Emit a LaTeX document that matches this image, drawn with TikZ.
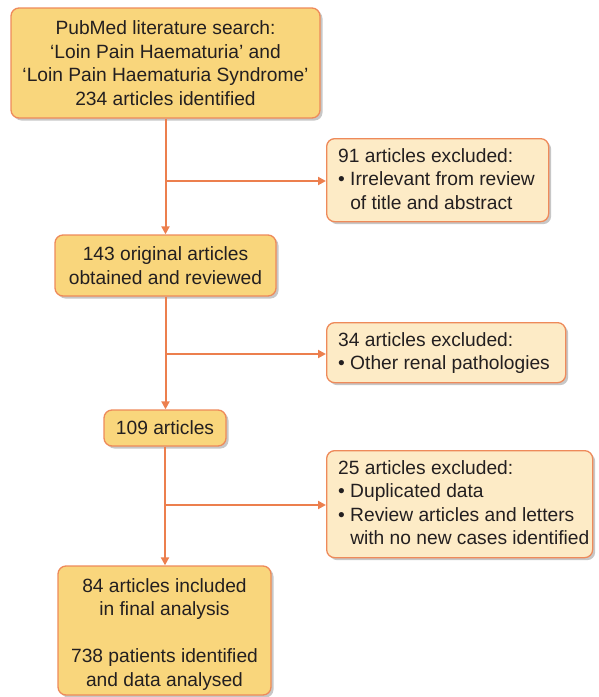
\documentclass[tikz,border=0pt]{standalone}
\usepackage{fontspec}
\setmainfont{Liberation Sans}
\usetikzlibrary{shadows,arrows.meta}
\definecolor{darkfill}{HTML}{F9D67C}
\definecolor{lightfill}{HTML}{FDEBC6}
\definecolor{edgeorange}{HTML}{EE8A5A}
\definecolor{lineorange}{HTML}{EC7F4E}
\definecolor{txt}{HTML}{231F20}
\tikzset{
  boxfont/.style={text=txt, font=\fontsize{19.2}{23.5}\selectfont},
  basebox/.style={draw=edgeorange, line width=1.3pt, rounded corners=8pt,
    boxfont, inner sep=0pt,
    drop shadow={shadow xshift=2.5pt, shadow yshift=-2.5pt, fill=black, opacity=0.22}},
  mainbox/.style={basebox, fill=darkfill, align=center},
  exclbox/.style={basebox, fill=lightfill, anchor=north west},
  excltext/.style={boxfont, align=left, anchor=north west, inner sep=0pt},
  flow/.style={draw=lineorange, line width=2pt, -{Triangle[length=8pt,width=8pt]}}
}
\begin{document}
\begin{tikzpicture}[x=1pt,y=-1pt]
\useasboundingbox (0,0) rectangle (598,697);
% main boxes
\node[mainbox, minimum width=309pt, minimum height=110pt] (b1) at (165.5,63)
  {PubMed literature search:\\‘Loin Pain Haematuria’ and\\‘Loin Pain Haematuria Syndrome’\\234 articles identified};
\node[mainbox, minimum width=221pt, minimum height=61pt] (b3) at (165.5,265.5)
  {143 original articles\\obtained and reviewed};
\node[mainbox, minimum width=122pt, minimum height=36pt] (b5) at (165,428)
  {109 articles};
\node[mainbox, minimum width=213pt, minimum height=129pt] (b7) at (164.5,630.5) {};
\node[boxfont, align=center, inner sep=0pt] (b7t) at ([yshift=-4pt]b7.center)
  {84 articles included\\in final analysis\\[23.5pt]738 patients identified\\and data analysed};
% excluded boxes
\node[exclbox, minimum width=222pt, minimum height=83pt] (b2) at (326,138) {};
\node[excltext] (b2t) at ([xshift=12pt,yshift=-10pt]b2.north west)
  {91 articles excluded:\\• Irrelevant from review\\\phantom{• }of title and abstract};
\node[exclbox, minimum width=239pt, minimum height=60pt] (b4) at (326,322) {};
\node[excltext] (b4t) at ([xshift=12pt,yshift=-10pt]b4.north west)
  {34 articles excluded:\\• Other renal pathologies};
\node[exclbox, minimum width=266pt, minimum height=107pt] (b6) at (326,450) {};
\node[excltext] (b6t) at ([xshift=12pt,yshift=-10pt]b6.north west)
  {25 articles excluded:\\• Duplicated data\\• Review articles and letters\\\phantom{• }with no new cases identified};
% branch points
\coordinate (j1) at (b1.south |- 0,181);
\coordinate (j2) at (b3.south |- 0,354);
\coordinate (j3) at (b5.south |- 0,505);
% connectors
\draw[flow] (b1.south) -- (b1.south |- b3.north);
\draw[flow] (j1) -- (j1 -| b2.west);
\draw[flow] (b3.south) -- (b3.south |- b5.north);
\draw[flow] (j2) -- (j2 -| b4.west);
\draw[flow] (b5.south) -- (b5.south |- b7.north);
\draw[flow] (j3) -- (j3 -| b6.west);
\end{tikzpicture}
\end{document}
